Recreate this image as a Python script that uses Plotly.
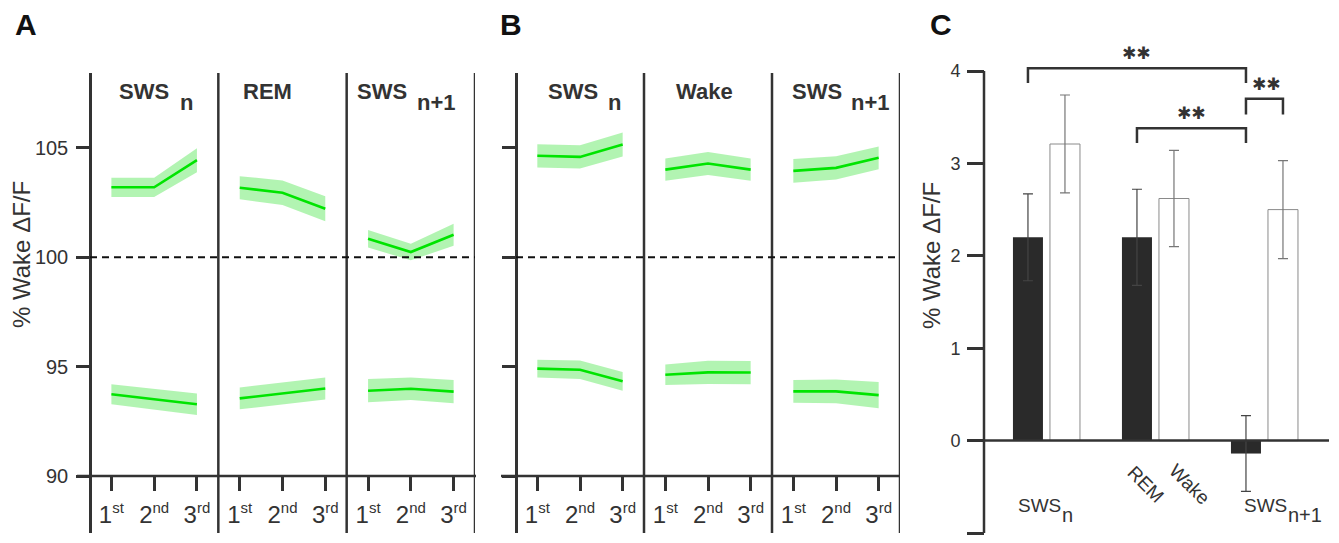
import plotly.graph_objects as go

W, H = 1339, 543
def px(x): return x / W
def py(y): return 1 - y / H

FONT = "Liberation Sans, Arial, Helvetica, sans-serif"
AX = "#333333"
GREEN = "rgb(0,228,0)"
BAND = "rgba(0,220,0,0.30)"

# ---------------- data ----------------
order_main = ["1", "2", "3"]
order_sup = ["st", "nd", "rd"]

a_titles = ["SWS", "REM", "SWS"]
a_subs = ["n", "", "n+1"]
a_high_mean = [[103.20, 103.20, 104.44], [103.18, 102.95, 102.22], [100.85, 100.24, 101.03]]
a_high_sem = [[0.44, 0.44, 0.55], [0.53, 0.56, 0.57], [0.40, 0.38, 0.50]]
a_low_mean = [[93.74, 93.51, 93.28], [93.55, 93.78, 94.00], [93.90, 93.99, 93.86]]
a_low_sem = [[0.46, 0.47, 0.49], [0.50, 0.50, 0.50], [0.53, 0.51, 0.53]]

b_titles = ["SWS", "Wake", "SWS"]
b_subs = ["n", "", "n+1"]
b_high_mean = [[104.64, 104.59, 105.16], [104.01, 104.29, 104.01], [103.95, 104.09, 104.55]]
b_high_sem = [[0.53, 0.53, 0.55], [0.51, 0.53, 0.51], [0.54, 0.53, 0.52]]
b_low_mean = [[94.91, 94.86, 94.33], [94.63, 94.74, 94.73], [93.87, 93.87, 93.70]]
b_low_sem = [[0.41, 0.42, 0.43], [0.47, 0.53, 0.53], [0.52, 0.54, 0.60]]

y_ticks_ab = [90, 95, 100, 105]

c_groups = [0, 1, 2]
c_group_main = ["SWS", "", "SWS"]
c_group_sub = ["n", "", "n+1"]
c_black_label_mid = "REM"
c_white_label_mid = "Wake"
c_black = [2.20, 2.20, -0.14]
c_black_err = [0.47, 0.52, 0.41]
c_white = [3.21, 2.62, 2.50]
c_white_err = [0.53, 0.52, 0.53]
c_yticks = [-1, 0, 1, 2, 3, 4]
sig_text = "✱✱"

order_labels = ['%s<sup><span style="font-size:15px">%s</span></sup>' % (m, s)
                for m, s in zip(order_main, order_sup)]

fig = go.Figure()
shapes = []
annotations = []

# ------------- panels A and B -------------
def line_panel(xa, ya, highs, high_sems, lows, low_sems):
    for k in range(3):
        xs = [3 * k + i + 1 for i in range(3)]
        for means, sems in ((highs[k], high_sems[k]), (lows[k], low_sems[k])):
            up = [m + s for m, s in zip(means, sems)]
            lo = [m - s for m, s in zip(means, sems)]
            fig.add_trace(go.Scatter(x=xs + xs[::-1], y=up + lo[::-1], fill="toself",
                                     fillcolor=BAND, line=dict(width=0), mode="lines",
                                     hoverinfo="skip", xaxis=xa, yaxis=ya, showlegend=False))
            fig.add_trace(go.Scatter(x=xs, y=means, mode="lines",
                                     line=dict(color=GREEN, width=2.6),
                                     xaxis=xa, yaxis=ya, showlegend=False))

line_panel("x", "y", a_high_mean, a_high_sem, a_low_mean, a_low_sem)
line_panel("x2", "y2", b_high_mean, b_high_sem, b_low_mean, b_low_sem)

Y_TOP, Y_BOT, Y_X = 73, 533, 476
PPU = 21.87
rng_ab = [90 - (Y_BOT - Y_X) / PPU, 90 + (Y_X - Y_TOP) / PPU]

def panel_axes(xname, yname, x0, x1, show_labels):
    xa = dict(domain=[px(x0), px(x1)], range=[0.5, 9.5], anchor="free", position=py(Y_X),
              tickmode="array", tickvals=list(range(1, 10)), ticktext=order_labels * 3,
              ticks="outside", ticklen=14, tickwidth=2.5, tickcolor=AX, ticklabelstandoff=3,
              tickfont=dict(family=FONT, size=24, color=AX), automargin=False,
              showline=False, showgrid=False, zeroline=False, fixedrange=True)
    ya = dict(domain=[py(Y_BOT), py(Y_TOP)], range=rng_ab, anchor="free", position=px(x0),
              tickmode="array", tickvals=y_ticks_ab, showticklabels=show_labels,
              ticks="outside", ticklen=13, tickwidth=2.5, tickcolor=AX,
              ticklabelstandoff=4, automargin=False,
              tickfont=dict(family=FONT, size=20, color=AX),
              showline=True, linewidth=2.5, linecolor=AX,
              showgrid=False, zeroline=False, fixedrange=True)
    fig.update_layout(**{xname: xa, yname: ya})

panel_axes("xaxis", "yaxis", 90, 475, True)
panel_axes("xaxis2", "yaxis2", 516, 900, False)

for xr, yr, xl0, xl1 in (("x", "y", 77, 476), ("x2", "y2", 501, 900)):
    for sep in (3.5, 6.5, 9.5):
        shapes.append(dict(type="line", xref=xr, yref="paper", x0=sep, x1=sep,
                           y0=py(Y_BOT), y1=py(Y_TOP), line=dict(color=AX, width=2.5)))
    shapes.append(dict(type="line", xref="paper", yref=yr, x0=px(xl0), x1=px(xl1),
                       y0=90, y1=90, line=dict(color=AX, width=2.5)))
    shapes.append(dict(type="line", xref=xr, yref=yr, x0=0.5, x1=9.5, y0=100, y1=100,
                       line=dict(color="#111111", width=2, dash="7px,5px")))

def subtitles(titles, subs, main_x, sub_x):
    for t, s, mx, sx in zip(titles, subs, main_x, sub_x):
        annotations.append(dict(text="<b>%s</b>" % t, xref="paper", yref="paper",
                                x=px(mx), y=py(91), xanchor="left", yanchor="middle",
                                showarrow=False, font=dict(family=FONT, size=22, color=AX)))
        if s:
            annotations.append(dict(text="<b>%s</b>" % s, xref="paper", yref="paper",
                                    x=px(sx), y=py(103), xanchor="left", yanchor="middle",
                                    showarrow=False, font=dict(family=FONT, size=22, color=AX)))

subtitles(a_titles, a_subs, [117, 241, 355], [178, 0, 415])
subtitles(b_titles, b_subs, [546, 674, 790], [606, 0, 849])

# ------------- panel C -------------
fig.add_trace(go.Bar(x=c_groups, y=c_black, marker=dict(color="#2a2a2a", line=dict(width=0)),
                     error_y=dict(type="data", array=c_black_err, color="#444444",
                                  thickness=1.2, width=5),
                     xaxis="x3", yaxis="y3", showlegend=False))
fig.add_trace(go.Bar(x=c_groups, y=c_white, marker=dict(color="white", line=dict(width=1, color="#8a8a8a")),
                     error_y=dict(type="data", array=c_white_err, color="#777777",
                                  thickness=1.2, width=5),
                     xaxis="x3", yaxis="y3", showlegend=False))

C_LEFT, C_RIGHT, C_TOP, C_BOT = 984, 1329, 71, 533
C_PPU = (C_BOT - C_TOP) / 5.0
C_EXTRA = 0.4
fig.update_layout(
    xaxis3=dict(domain=[px(C_LEFT), px(C_RIGHT)], range=[-0.573, 2.592], anchor="y3",
                showticklabels=False, ticks="", showline=False, showgrid=False,
                zeroline=False, fixedrange=True, automargin=False),
    yaxis3=dict(domain=[py(C_BOT), py(C_TOP - C_EXTRA * C_PPU)], range=[-1, 4 + C_EXTRA],
                anchor="free", position=px(C_LEFT),
                tickmode="array", tickvals=c_yticks, ticks="outside", ticklen=17, tickwidth=2.5,
                tickcolor=AX, ticklabelstandoff=3, automargin=False,
                tickfont=dict(family=FONT, size=18, color=AX),
                showline=False, showgrid=False, zeroline=False, fixedrange=True),
    barmode="group", bargap=0.321, bargroupgap=0.189,
)
shapes.append(dict(type="line", xref="paper", yref="y3", x0=px(C_LEFT), x1=px(C_LEFT),
                   y0=c_yticks[0], y1=c_yticks[-1], line=dict(color=AX, width=2.5)))
shapes.append(dict(type="line", xref="paper", yref="y3", x0=px(967), x1=px(1329), y0=0, y1=0,
                   line=dict(color=AX, width=2.5)))

off = 0.1697
def bracket(xa, xb, ytop, ylow):
    shapes.append(dict(type="path", xref="x3", yref="y3",
                       path="M %f,%f L %f,%f L %f,%f L %f,%f" % (xa, ylow, xa, ytop, xb, ytop, xb, ylow),
                       line=dict(color=AX, width=2.5)))

bracket(0 - off, 2 - off, 4.03, 3.87)
bracket(1 - off, 2 - off, 3.38, 3.22)
bracket(2 - off, 2 + off, 3.70, 3.53)

for sx, sy in ((0.83, 4.195), (1.33, 3.545), (2.02, 3.86)):
    annotations.append(dict(text=sig_text, xref="x3", yref="y3", x=sx, y=sy, showarrow=False,
                            xanchor="center", yanchor="middle",
                            font=dict(family="DejaVu Sans", size=17, color=AX)))

# category labels of C
for main, sub, mx, sx in ((c_group_main[0], c_group_sub[0], 1016, 1060),
                          (c_group_main[2], c_group_sub[2], 1242, 1286)):
    annotations.append(dict(text=main, xref="paper", yref="paper", x=px(mx), y=py(505),
                            showarrow=False, xanchor="left", yanchor="middle",
                            font=dict(family=FONT, size=19, color=AX)))
    annotations.append(dict(text=sub, xref="paper", yref="paper", x=px(sx), y=py(515),
                            showarrow=False, xanchor="left", yanchor="middle",
                            font=dict(family=FONT, size=20, color=AX)))
annotations.append(dict(text=c_black_label_mid, xref="x3", yref="paper", x=0.913, y=py(484),
                        showarrow=False, xanchor="center", yanchor="middle", textangle=45,
                        font=dict(family=FONT, size=19, color=AX)))
annotations.append(dict(text=c_white_label_mid, xref="x3", yref="paper", x=1.317, y=py(484),
                        showarrow=False, xanchor="center", yanchor="middle", textangle=45,
                        font=dict(family=FONT, size=19, color=AX)))

# y titles
for tx, ty in ((21, 255), (931, 256)):
    annotations.append(dict(text="% Wake ΔF/F", xref="paper", yref="paper", x=px(tx), y=py(ty),
                            showarrow=False, textangle=-90, xanchor="center", yanchor="middle",
                            font=dict(family=FONT, size=24, color=AX)))

# panel letters
for letter, lx in (("A", 26), ("B", 511), ("C", 941)):
    annotations.append(dict(text="<b>%s</b>" % letter, xref="paper", yref="paper", x=px(lx), y=py(24),
                            showarrow=False, xanchor="center", yanchor="middle",
                            font=dict(family=FONT, size=30, color="#111111")))

fig.update_layout(template="none", width=W, height=H, margin=dict(l=0, r=0, t=0, b=0, autoexpand=False),
                  paper_bgcolor="white", plot_bgcolor="white", showlegend=False,
                  shapes=shapes, annotations=annotations)

fig.write_html("out.html", config={"displayModeBar": False},
               post_script="document.body.style.margin='0';document.body.style.overflow='hidden';")
